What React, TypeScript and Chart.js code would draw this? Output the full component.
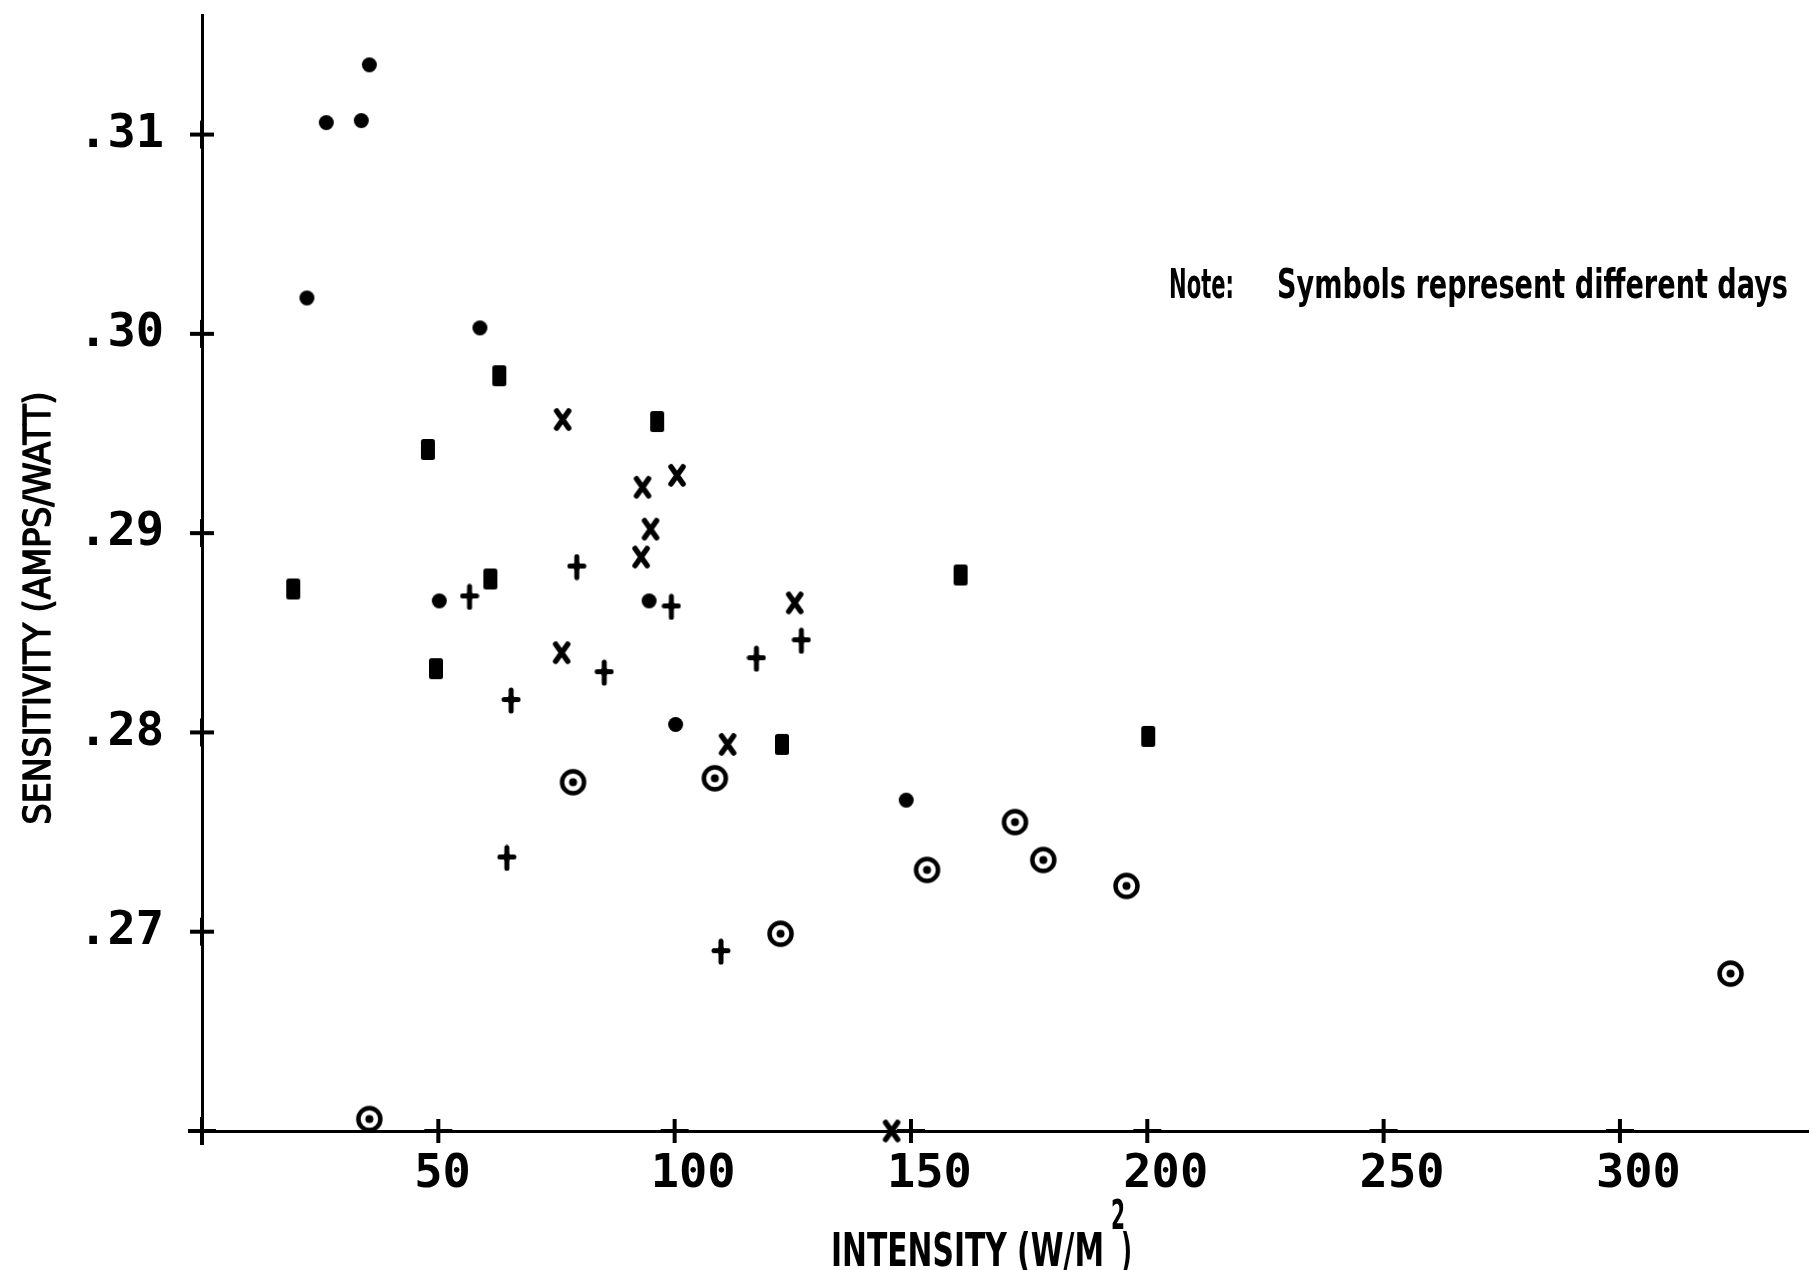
import React, { useEffect, useRef } from 'react';
import { Chart, registerables } from 'chart.js';

Chart.register(...registerables);

const CANVAS_W = 1809;
const CANVAS_H = 1270;

// ---- Data: intensity (W/m^2) vs sensitivity (A/W); one series per day/symbol ----
const seriesNames = ['Day 1', 'Day 2', 'Day 3', 'Day 4', 'Day 5'];

// filled dots
const dotX = [35.4, 26.3, 33.7, 22.2, 58.8, 50.2, 94.6, 100.2, 149.0];
const dotY = [0.3135, 0.3106, 0.3107, 0.3018, 0.3003, 0.2866, 0.2866, 0.2804, 0.2766];

// filled tall squares
const squareX = [19.3, 47.8, 62.9, 49.5, 61.0, 96.3, 122.7, 160.5, 200.2];
const squareY = [0.2872, 0.2942, 0.2979, 0.2832, 0.2877, 0.2956, 0.2794, 0.2879, 0.2798];

// x marks
const crossX = [76.3, 93.2, 100.5, 94.9, 92.9, 76.1, 125.4, 111.2, 145.9];
const crossY = [0.2957, 0.2923, 0.2929, 0.2902, 0.2888, 0.284, 0.2865, 0.2794, 0.26];

// plus marks
const plusX = [56.6, 79.3, 99.3, 85.1, 65.4, 117.3, 126.8, 64.5, 109.8];
const plusY = [0.2868, 0.2883, 0.2863, 0.283, 0.2816, 0.2837, 0.2846, 0.2737, 0.269];

// circle with centre dot
const ringX = [35.4, 78.5, 108.5, 122.4, 153.4, 172.0, 178.0, 195.6, 323.4];
const ringY = [0.2606, 0.2775, 0.2777, 0.2699, 0.2731, 0.2755, 0.2736, 0.2723, 0.2679];

// ---- Axes ----
const xMin = 0;
const xMax = 340;
const yMin = 0.26;
const yMax = 0.316;
const xTickValues = [0, 50, 100, 150, 200, 250, 300];
const xTickLabels = ['', '50', '100', '150', '200', '250', '300'];
const yTickValues = [0.26, 0.27, 0.28, 0.29, 0.3, 0.31];
const yTickLabels = ['', '.27', '.28', '.29', '.30', '.31'];

// ---- Texts ----
const yTitle = 'SENSITIVITY (AMPS/WATT)';
const xTitleMain = 'INTENSITY (W/M';
const xTitleSup = '2';
const xTitleEnd = ')';
const noteLabel = 'Note:';
const noteText = 'Symbols represent different days';

const TEXT_FONT = "'DejaVu Sans Condensed', 'DejaVu Sans', sans-serif";
const TICK_FONT = "'DejaVu Sans Mono', monospace";

function makeCanvas(w: number, h: number, draw: (g: CanvasRenderingContext2D) => void) {
  const c = document.createElement('canvas');
  c.width = w;
  c.height = h;
  const g = c.getContext('2d') as CanvasRenderingContext2D;
  g.fillStyle = '#000';
  g.strokeStyle = '#000';
  draw(g);
  return c;
}

function makeSymbols() {
  const dot = makeCanvas(17, 17, (g) => {
    g.beginPath();
    g.arc(8.5, 8.5, 7.5, 0, Math.PI * 2);
    g.fill();
  });
  const square = makeCanvas(16, 23, (g) => {
    g.beginPath();
    g.roundRect(1, 1, 14, 21, 2.5);
    g.fill();
  });
  const xmark = makeCanvas(20, 25, (g) => {
    g.lineWidth = 5.5;
    g.lineCap = 'round';
    g.beginPath();
    g.moveTo(4, 4);
    g.lineTo(16, 21);
    g.moveTo(16, 4);
    g.lineTo(4, 21);
    g.stroke();
  });
  const plus = makeCanvas(20, 27, (g) => {
    g.lineWidth = 5;
    g.lineCap = 'round';
    g.beginPath();
    g.moveTo(10, 3);
    g.lineTo(10, 24);
    g.moveTo(3, 12.5);
    g.lineTo(17, 12.5);
    g.stroke();
    g.beginPath();
    g.moveTo(10, 6);
    g.lineTo(15, 12.5);
    g.lineTo(10, 19);
    g.lineTo(5, 12.5);
    g.closePath();
    g.fill();
  });
  const ring = makeCanvas(29, 29, (g) => {
    g.lineWidth = 4.5;
    g.beginPath();
    g.arc(14.5, 14.5, 11, 0, Math.PI * 2);
    g.stroke();
    g.beginPath();
    g.arc(14.5, 14.5, 4, 0, Math.PI * 2);
    g.fill();
  });
  return [dot, square, xmark, plus, ring];
}

function fitText(
  ctx: CanvasRenderingContext2D,
  text: string,
  x: number,
  y: number,
  targetWidth: number,
  font: string,
  rotation = 0,
  align: CanvasTextAlign = 'left',
  strokeW = 0
) {
  ctx.save();
  ctx.font = font;
  ctx.fillStyle = '#000';
  ctx.strokeStyle = '#000';
  ctx.textBaseline = 'alphabetic';
  ctx.textAlign = align;
  const w = ctx.measureText(text).width;
  ctx.translate(x, y);
  ctx.rotate(rotation);
  ctx.scale(targetWidth / w, 1);
  ctx.fillText(text, 0, 0);
  if (strokeW > 0) {
    ctx.lineWidth = strokeW;
    ctx.lineJoin = 'round';
    ctx.strokeText(text, 0, 0);
  }
  ctx.restore();
}

const decorPlugin = {
  id: 'decor',
  afterDraw(chart: any) {
    const { ctx, chartArea, scales } = chart;
    const xs = scales.x;
    const ys = scales.y;
    ctx.save();
    ctx.strokeStyle = '#000';
    ctx.lineWidth = 4;
    // cross-shaped tick marks on the axes
    ys.ticks.forEach((t: any) => {
      const py = ys.getPixelForValue(t.value);
      ctx.beginPath();
      ctx.moveTo(chartArea.left - 12, py);
      ctx.lineTo(chartArea.left + 12, py);
      ctx.stroke();
      ctx.beginPath();
      ctx.moveTo(chartArea.left, py - 14);
      ctx.lineTo(chartArea.left, py + 14);
      ctx.stroke();
    });
    xs.ticks.forEach((t: any) => {
      const px = xs.getPixelForValue(t.value);
      ctx.beginPath();
      ctx.moveTo(px, chartArea.bottom - 12);
      ctx.lineTo(px, chartArea.bottom + 12);
      ctx.stroke();
      ctx.beginPath();
      ctx.moveTo(px - 14, chartArea.bottom);
      ctx.lineTo(px + 14, chartArea.bottom);
      ctx.stroke();
    });
    ctx.restore();

    const L = chartArea.left;
    const B = chartArea.bottom;
    // y axis title (rotated)
    fitText(ctx, yTitle, L - 152, 608, 433, `38px ${TEXT_FONT}`, -Math.PI / 2, 'center', 1.4);
    // x axis title with raised exponent
    fitText(ctx, xTitleMain, 831, B + 135, 273, `bold 46px ${TEXT_FONT}`);
    fitText(ctx, xTitleSup, 1111, B + 98, 14, `bold 40px ${TEXT_FONT}`);
    fitText(ctx, xTitleEnd, 1121, B + 135, 11, `bold 46px ${TEXT_FONT}`);
    // note
    fitText(ctx, noteLabel, 1169, 298, 65, `bold 41px ${TEXT_FONT}`);
    fitText(ctx, noteText, 1277, 298, 511, `bold 41px ${TEXT_FONT}`);
  },
};

export default function App() {
  const canvasRef = useRef<HTMLCanvasElement | null>(null);

  useEffect(() => {
    document.body.style.margin = '0';
    document.body.style.background = '#fff';
    const canvas = canvasRef.current;
    if (!canvas) return;
    const symbols = makeSymbols();
    const xsAll = [dotX, squareX, crossX, plusX, ringX];
    const ysAll = [dotY, squareY, crossY, plusY, ringY];

    const datasets = seriesNames.map((name, k) => ({
      label: name,
      data: xsAll[k].map((x, i) => ({ x, y: ysAll[k][i] })),
      pointStyle: symbols[k] as any,
      pointRadius: 10,
      pointHoverRadius: 10,
      showLine: false,
      clip: false as any,
    }));

    const tickFont = { family: TICK_FONT, size: 47, weight: 'bold' as const, lineHeight: 1.2 };

    const chart = new Chart(canvas, {
      type: 'scatter',
      data: { datasets },
      options: {
        animation: false,
        responsive: false,
        maintainAspectRatio: false,
        devicePixelRatio: 1,
        events: [],
        layout: { autoPadding: false, padding: { top: 15, left: 0, right: 0, bottom: 0 } },
        plugins: {
          legend: { display: false },
          tooltip: { enabled: false },
          title: { display: false },
        },
        scales: {
          x: {
            type: 'linear',
            min: xMin,
            max: xMax,
            afterBuildTicks: (s: any) => {
              s.ticks = xTickValues.map((v) => ({ value: v }));
            },
            afterFit: (s: any) => {
              s.height = 139;
              s.paddingLeft = 0;
              s.paddingRight = 0;
            },
            grid: { display: false, drawTicks: false },
            border: { display: true, color: '#000', width: 3, dash: [22, 6, 7, 6, 3, 6] },
            ticks: {
              autoSkip: false,
              maxRotation: 0,
              minRotation: 0,
              align: 'start',
              labelOffset: -24,
              padding: 16,
              color: '#000',
              font: tickFont,
              callback: (_v: any, i: number) => xTickLabels[i],
            },
          },
          y: {
            type: 'linear',
            min: yMin,
            max: yMax,
            afterBuildTicks: (s: any) => {
              s.ticks = yTickValues.map((v) => ({ value: v }));
            },
            afterFit: (s: any) => {
              s.width = 202;
              s.paddingTop = 0;
              s.paddingBottom = 0;
            },
            grid: { display: false, drawTicks: false },
            border: { display: true, color: '#000', width: 3, dash: [9, 4, 3, 4] },
            ticks: {
              autoSkip: false,
              padding: 38,
              color: '#000',
              font: tickFont,
              callback: (_v: any, i: number) => yTickLabels[i],
            },
          },
        },
      },
      plugins: [decorPlugin],
    });

    return () => {
      chart.destroy();
    };
  }, []);

  return (
    <div style={{ width: CANVAS_W, height: CANVAS_H, position: 'relative', background: '#fff' }}>
      <canvas ref={canvasRef} width={CANVAS_W} height={CANVAS_H} />
    </div>
  );
}
